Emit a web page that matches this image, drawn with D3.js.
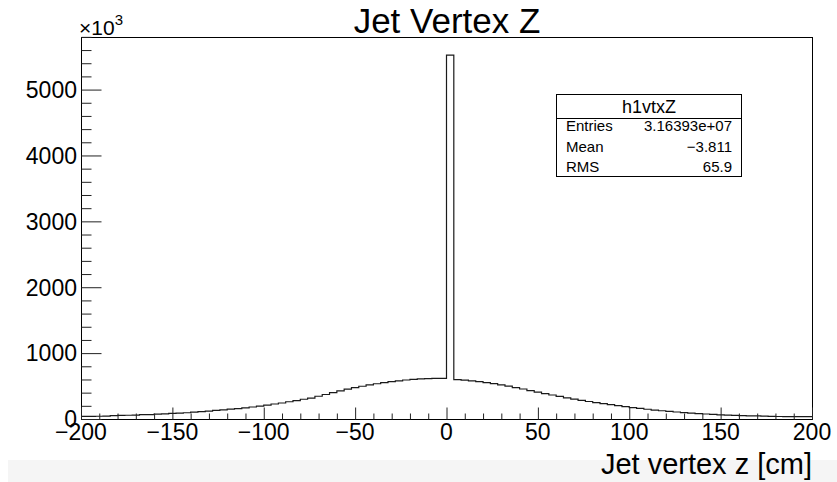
<!DOCTYPE html>
<html>
<head>
<meta charset="utf-8">
<script src="https://cdn.jsdelivr.net/npm/d3@7"></script>
<style>
  body { margin: 0; background: #fff; }
  svg { display: block; font-family: "Liberation Sans", Arial, Helvetica, sans-serif; }
</style>
</head>
<body>
<div id="chart"></div>
<script>
// jet vertex z, entries per 4 cm bin (in thousands), -200..200 cm
const binStart = -200;
const binWidth = 4;
const counts = [
  40, 41, 42, 44, 52, 55, 57, 59, 65, 67,
  74, 77, 84, 90, 95, 104, 111, 121, 130, 138,
  150, 158, 170, 182, 196, 212, 228, 243, 262, 280,
  300, 318, 345, 372, 400, 428, 452, 475, 497, 517,
  535, 552, 567, 580, 592, 601, 608, 613, 616, 618,
  5522, 597, 590, 580, 567, 553, 537, 518, 498, 477,
  455, 432, 409, 386, 364, 342, 321, 302, 284, 266,
  249, 233, 217, 202, 187, 173, 160, 148, 136, 125,
  115, 106, 97, 90, 83, 76, 70, 64, 59, 55,
  51, 48, 46, 44, 41, 38, 37, 36, 35, 35
];
const xMajor = [-200, -150, -100, -50, 0, 50, 100, 150, 200];
const yMajor = [0, 1000, 2000, 3000, 4000, 5000];
const statLabels = ['Entries', 'Mean', 'RMS'];
const statValues = ['3.16393e+07', '\u22123.811', '65.9'];

let width = 837;
let height = 482;
let frame = { left: 81, right: 812, top: 37, bottom: 419 };

let svg = d3.select('#chart')
            .append('svg')
            .attr('width', width)
            .attr('height', height);

// pale strip along the bottom edge
svg.append('rect')
   .attr('x', 8).attr('y', 460)
   .attr('width', width - 8).attr('height', height - 460)
   .attr('fill', '#f5f5f5');

let x = d3.scaleLinear()
          .domain([-200, 200])
          .range([frame.left, frame.right]);

let y = d3.scaleLinear()
          .domain([0, d3.max(counts) * 1.05])
          .range([frame.bottom, frame.top]);

const fmt = v => String(v).replace('-', '\u2212');

// histogram outline
let bins = counts.map((c, i) => ({ lo: binStart + i * binWidth, v: c }));
bins.push({ lo: binStart + counts.length * binWidth, v: counts[counts.length - 1] });

let line = d3.line()
             .x(d => x(d.lo))
             .y(d => y(d.v))
             .curve(d3.curveStepAfter);

svg.append('path')
   .datum(bins)
   .attr('d', line)
   .attr('fill', 'none')
   .attr('stroke', '#1a1a1a')
   .attr('stroke-width', 1.2);

// frame
svg.append('rect')
   .attr('x', frame.left + 0.5).attr('y', frame.top + 0.5)
   .attr('width', frame.right - frame.left).attr('height', frame.bottom - frame.top)
   .attr('fill', 'none')
   .attr('stroke', '#000')
   .attr('stroke-width', 1)
   .attr('shape-rendering', 'crispEdges');

// x axis: ticks pointing up into the frame
let xAxis = d3.axisTop(x)
              .tickValues(d3.range(-200, 201, 10))
              .tickSize(6)
              .tickFormat('');
let gx = svg.append('g')
            .attr('transform', `translate(0,${frame.bottom + 0.5})`)
            .call(xAxis);
gx.select('.domain').remove();
gx.selectAll('.tick line')
  .attr('y2', d => xMajor.includes(d) ? -12 : -6)
  .attr('stroke', '#222');

svg.append('g')
   .selectAll('text')
   .data(xMajor)
   .enter()
   .append('text')
   .attr('x', d => x(d))
   .attr('y', 440)
   .attr('text-anchor', 'middle')
   .attr('font-size', 23)
   .attr('fill', '#000')
   .text(fmt);

// y axis: ticks pointing right into the frame
let yAxis = d3.axisRight(y)
              .tickValues(d3.range(0, 5801, 200))
              .tickSize(10)
              .tickFormat('');
let gy = svg.append('g')
            .attr('transform', `translate(${frame.left + 0.5},0)`)
            .call(yAxis);
gy.select('.domain').remove();
gy.selectAll('.tick line')
  .attr('x2', d => yMajor.includes(d) ? 20 : 10)
  .attr('stroke', '#222');

svg.append('g')
   .selectAll('text')
   .data(yMajor)
   .enter()
   .append('text')
   .attr('x', 77)
   .attr('y', d => y(d))
   .attr('dy', '0.36em')
   .attr('text-anchor', 'end')
   .attr('font-size', 23)
   .attr('fill', '#000')
   .text(d => d);

// exponent marker
let expo = svg.append('text')
              .attr('x', 79)
              .attr('y', 35)
              .attr('font-size', 21)
              .attr('fill', '#000');
expo.append('tspan').text('\u00d710');
expo.append('tspan').attr('dy', -10).attr('font-size', 15).text('3');

// titles
svg.append('text')
   .attr('x', 447)
   .attr('y', 33)
   .attr('text-anchor', 'middle')
   .attr('font-size', 35)
   .attr('fill', '#000')
   .text('Jet Vertex Z');

svg.append('text')
   .attr('x', 812)
   .attr('y', 474)
   .attr('text-anchor', 'end')
   .attr('font-size', 29)
   .attr('fill', '#000')
   .text('Jet vertex z [cm]');

// statistics box
let box = { x: 556.5, y: 94.5, w: 185, h: 82, head: 24 };
let stats = svg.append('g');
stats.append('rect')
     .attr('x', box.x).attr('y', box.y)
     .attr('width', box.w).attr('height', box.h)
     .attr('fill', '#fff')
     .attr('stroke', '#000');
stats.append('line')
     .attr('x1', box.x).attr('x2', box.x + box.w)
     .attr('y1', box.y + box.head).attr('y2', box.y + box.head)
     .attr('stroke', '#000');
stats.append('text')
     .attr('x', box.x + box.w / 2)
     .attr('y', 113)
     .attr('text-anchor', 'middle')
     .attr('font-size', 18)
     .text('h1vtxZ');
stats.selectAll('.lab')
     .data(statLabels)
     .enter()
     .append('text')
     .attr('class', 'lab')
     .attr('x', 566)
     .attr('y', (d, i) => 131 + i * 20.5)
     .attr('font-size', 15)
     .text(d => d);
stats.selectAll('.val')
     .data(statValues)
     .enter()
     .append('text')
     .attr('class', 'val')
     .attr('x', 732)
     .attr('y', (d, i) => 131 + i * 20.5)
     .attr('text-anchor', 'end')
     .attr('font-size', 15)
     .text(d => d);
</script>
</body>
</html>
